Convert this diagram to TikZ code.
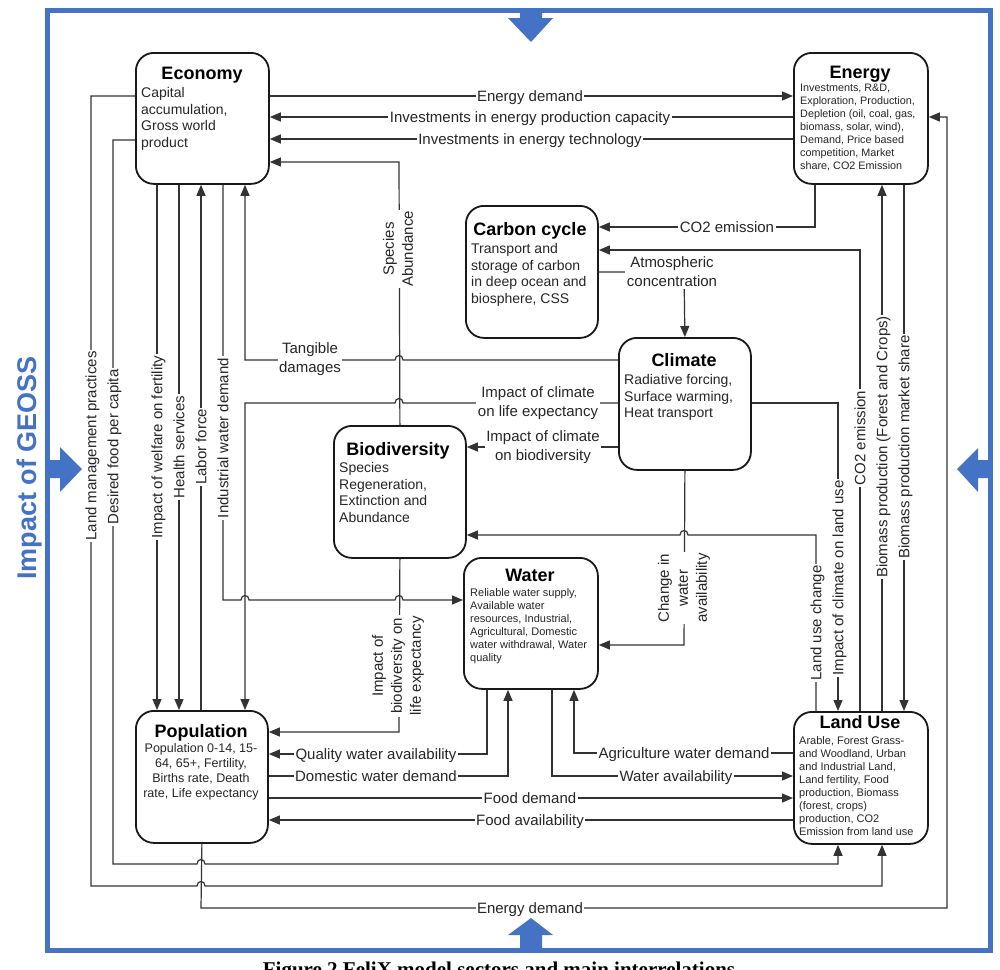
\documentclass[tikz,border=0pt]{standalone}
\usepackage{fontspec}
\setmainfont{Liberation Sans}
\newfontfamily\capfont{Liberation Serif}
\usetikzlibrary{arrows.meta}
\definecolor{geoss}{RGB}{68,114,196}
\newcommand{\hopR}[2]{-- ({#1-4},#2) .. controls ({#1-4},{#2-6}) and ({#1+4},{#2-6}) .. ({#1+4},#2)}
\newcommand{\hopL}[2]{-- ({#1+4},#2) .. controls ({#1+4},{#2-6}) and ({#1-4},{#2-6}) .. ({#1-4},#2)}
\begin{document}
\begin{tikzpicture}[x=1pt,y=-1pt,
 box/.style={draw=black!90, line width=1.8pt, rounded corners=18pt, fill=white, inner sep=0pt, anchor=north west},
 ttl/.style={font=\bfseries\fontsize{18}{21}\selectfont, anchor=base, inner sep=0pt},
 desc/.style={align=left, anchor=north west, inner sep=0pt, text=black!85},
 dbig/.style={desc, font=\fontsize{14}{16.7}\selectfont},
 dsmall/.style={desc, font=\fontsize{11}{13}\selectfont},
 link/.style={line width=1.2pt, draw=black!80, -{Triangle[length=11pt,width=9pt]}},
 lbl/.style={fill=white, inner sep=1.5pt, text=black!85, font=\fontsize{15}{19}\selectfont},
 one/.style={lbl, text height=10.8pt, text depth=0pt},
 multi/.style={lbl, align=center},
]
\fill[white] (0,0) rectangle (1000,969);
\useasboundingbox (0,0) rectangle (1000,969);

% frame
\draw[geoss, line width=5pt] (47,10) rectangle (990,950);
\fill[geoss] (520,10) -- (542,10) -- (542,18) -- (553,18) -- (531,42) -- (508,18) -- (520,18) -- cycle;
\fill[geoss] (520,950) -- (542,950) -- (542,935) -- (553,935) -- (531,918) -- (508,935) -- (520,935) -- cycle;
\fill[geoss] (47,460) -- (60,460) -- (60,447) -- (82,469) -- (60,492) -- (60,478) -- (47,478) -- cycle;
\fill[geoss] (990,460) -- (978,460) -- (978,448) -- (957,469) -- (978,492) -- (978,478) -- (990,478) -- cycle;
\node[rotate=90, text=geoss, font=\bfseries\fontsize{27}{30}\selectfont, inner sep=0pt] (geo) at (30,468) {Impact of GEOSS};

% boxes
\node[box, minimum width=133pt, minimum height=131pt] (eco) at (135,52) {};
\node[box, minimum width=134pt, minimum height=131pt] (ene) at (793,52) {};
\node[box, minimum width=132pt, minimum height=132pt] (car) at (465,205) {};
\node[box, minimum width=132pt, minimum height=132pt] (cli) at (618,337) {};
\node[box, minimum width=132pt, minimum height=132pt] (bio) at (333,425) {};
\node[box, minimum width=134pt, minimum height=131pt] (wat) at (463,557) {};
\node[box, minimum width=132pt, minimum height=132pt] (pop) at (135,710) {};
\node[box, minimum width=134pt, minimum height=132pt] (lan) at (793,711) {};

% titles
\node[ttl] (ecoT) at (202,79.5) {Economy};
\node[ttl] (eneT) at (860,78.5) {Energy};
\node[ttl] (carT) at (530,235.5) {Carbon cycle};
\node[ttl] (cliT) at (684,366.5) {Climate};
\node[ttl] (bioT) at (398,455) {Biodiversity};
\node[ttl] (watT) at (530,581.5) {Water};
\node[ttl] (popT) at (201,737.5) {Population};
\node[ttl] (lanT) at (860,728.5) {Land Use};

% descriptions
\node[dbig] (ecoD) at (141,87) {Capital\\accumulation,\\Gross world\\product};
\node[desc, font=\fontsize{10.8}{13}\selectfont] (eneD) at (800,84) {Investments, R\&D,\\Exploration, Production,\\Depletion (oil, coal, gas,\\biomass, solar, wind),\\Demand, Price based\\competition, Market\\share, CO2 Emission};
\node[dbig] (carD) at (471,243) {Transport and\\storage of carbon\\in deep ocean and\\biosphere, CSS};
\node[dbig] (cliD) at (624,374) {Radiative forcing,\\Surface warming,\\Heat transport};
\node[dbig] (bioD) at (339,462) {Species\\Regeneration,\\Extinction and\\Abundance};
\node[dsmall] (watD) at (470,588) {Reliable water supply,\\Available water\\resources, Industrial,\\Agricultural, Domestic\\water withdrawal, Water\\quality};
\node[align=center, anchor=north, inner sep=0pt, text=black!85, font=\fontsize{12.5}{15}\selectfont] (popD) at (201,743.5) {Population 0-14, 15-\\64, 65+, Fertility,\\Births rate, Death\\rate, Life expectancy};
\node[dsmall] (lanD) at (799,736) {Arable, Forest Grass-\\and Woodland, Urban\\and Industrial Land,\\Land fertility, Food\\production, Biomass\\(forest, crops)\\production, CO2\\Emission from land use};

% connectors
\draw[link] (eco.east |- 0,96) -- (ene.west |- 0,96);
\draw[link] (ene.west |- 0,117) -- (eco.east |- 0,117);
\draw[link] (ene.west |- 0,139) -- (eco.east |- 0,139);
\draw[link] (bio.north) -- (399,162) -- (eco.east |- 0,162);
\draw[link] (815,0 |- ene.south) -- (815,227) -- (car.east |- 0,227);
\draw[link] (860,0 |- lan.north) -- (860,250) -- (car.east |- 0,250);
\draw[link] (car.east |- 0,272) -- (684,272) -- (cli.north);
\draw[link] (cli.west |- 0,360) \hopL{399}{360} -- (245,360) -- (245,0 |- eco.south);
\draw[link] (cli.west |- 0,403) \hopL{399}{403} -- (245,403) -- (245,0 |- pop.north);
\draw[link] (cli.west |- 0,447) -- (bio.east |- 0,447);
\draw[link] (cli.east |- 0,403) -- (838,403) -- (838,0 |- lan.north);
\draw[link] (816,0 |- lan.north) -- (816,535) \hopL{684}{535} -- (bio.east |- 0,535);
\draw[link] (cli.south) -- (684,645) -- (wat.east |- 0,645);
\draw[link] (882,0 |- lan.north) -- (882,0 |- ene.south);
\draw[link] (904,0 |- ene.south) -- (904,0 |- lan.north);
\draw[link] (pop.south) -- (201,908) -- (947,908) -- (947,117) -- (ene.east |- 0,117);
\draw[link] (eco.west |- 0,140) -- (113,140) -- (113,864) \hopR{201}{864} -- (838,864) -- (838,0 |- lan.south);
\draw[link] (eco.west |- 0,96) -- (91,96) -- (91,886) \hopR{201}{886} -- (882,886) -- (882,0 |- lan.south);
\draw[link] (157,0 |- eco.south) -- (157,0 |- pop.north);
\draw[link] (179,0 |- eco.south) -- (179,0 |- pop.north);
\draw[link] (201,0 |- pop.north) -- (201,0 |- eco.south);
\draw[link] (223,0 |- eco.south) -- (223,600) \hopR{245}{600} \hopR{399}{600} -- (wat.west |- 0,600);
\draw[link] (bio.south) -- (399,732) -- (pop.east |- 0,732);
\draw[link] (487,0 |- wat.south) -- (487,754) -- (pop.east |- 0,754);
\draw[link] (pop.east |- 0,776) -- (508,776) -- (508,0 |- wat.south);
\draw[link] (pop.east |- 0,798) -- (lan.west |- 0,798);
\draw[link] (lan.west |- 0,820) -- (pop.east |- 0,820);
\draw[link] (lan.west |- 0,753) -- (574,753) -- (574,0 |- wat.south);
\draw[link] (552,0 |- wat.south) -- (552,776) -- (lan.west |- 0,776);

% labels
\node[one] (l1) at (530,96) {Energy demand};
\node[one] (l2) at (530,117) {Investments in energy production capacity};
\node[one] (l3) at (530,139) {Investments in energy technology};
\node[multi, rotate=90] (l4) at (398,249) {Species\\Abundance};
\node[one] (l5) at (727,227) {CO2 emission};
\node[one, rotate=90] (l6) at (860,438) {CO2 emission};
\node[multi] (l7) at (672,272) {Atmospheric\\concentration};
\node[multi] (l8) at (310,359) {Tangible\\damages};
\node[multi] (l9) at (538,403) {Impact of climate\\on life expectancy};
\node[multi] (l10) at (543,447) {Impact of climate\\on biodiversity};
\node[one, rotate=90] (l11) at (838,578) {Impact of climate on land use};
\node[one, rotate=90] (l12) at (816,623) {Land use change};
\node[multi, rotate=90] (l13) at (684,588) {Change in\\water\\availability};
\node[one, rotate=90] (l14) at (882,447) {Biomass production (Forest and Crops)};
\node[one, rotate=90] (l15) at (904,447) {Biomass production market share};
\node[one] (l16) at (530,908) {Energy demand};
\node[one, rotate=90] (l17) at (113,447) {Desired food per capita};
\node[one, rotate=90] (l18) at (91,446) {Land management practices};
\node[one, rotate=90] (l19) at (157,447) {Impact of welfare on fertility};
\node[one, rotate=90] (l20) at (179,447) {Health services};
\node[one, rotate=90] (l21) at (201,447) {Labor force};
\node[one, rotate=90] (l22) at (223,438) {Industrial water demand};
\node[multi, rotate=90] (l23) at (398,666) {Impact of\\biodiversity on\\life expectancy};
\node[one] (l24) at (376,754) {Quality water availability};
\node[one] (l25) at (376,776) {Domestic water demand};
\node[one] (l26) at (530,798) {Food demand};
\node[one] (l27) at (530,820) {Food availability};
\node[one] (l28) at (684,753) {Agriculture water demand};
\node[one] (l29) at (676,776) {Water availability};

% caption
\node[font=\capfont\bfseries\fontsize{21}{25}\selectfont, anchor=base, inner sep=0pt] (cap) at (499,976) {Figure 2 FeliX model sectors and main interrelations};
\end{tikzpicture}
\end{document}
